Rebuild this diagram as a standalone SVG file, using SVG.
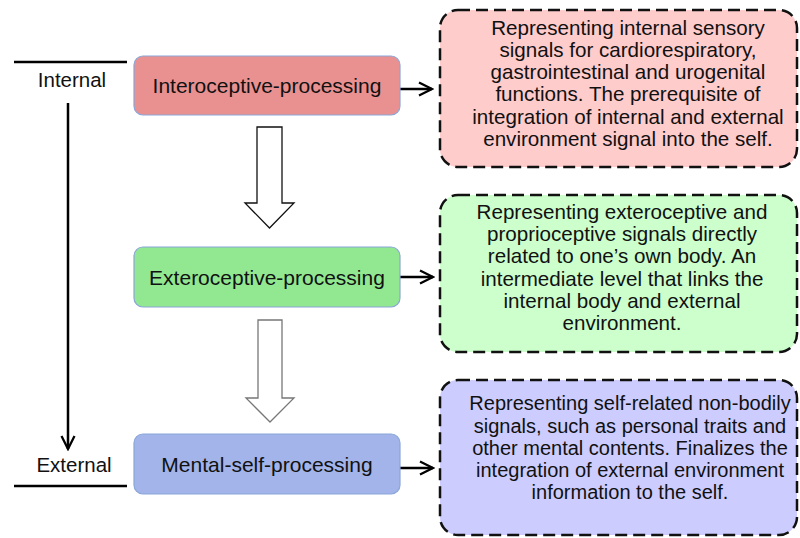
<svg xmlns="http://www.w3.org/2000/svg" width="800" height="538" viewBox="0 0 800 538">
<defs>
<style>
.t{font-family:"Liberation Sans",Arial,sans-serif;fill:#111;}
.lbl{font-size:21px;text-anchor:middle;}
.desc{font-size:20.6px;text-anchor:middle;}
.desc2{font-size:20px;text-anchor:middle;}
.side{font-size:20.5px;text-anchor:middle;}
.proc{stroke:#8aa6d8;stroke-width:1.2;}
.note{stroke:#111;stroke-width:2.5;stroke-dasharray:12 6;}
.conn{stroke:#000;stroke-width:2.5;fill:none;}
.block{fill:#fff;stroke-width:1.3;}
</style>
<marker id="ah" viewBox="0 0 10 10" refX="9" refY="5" markerWidth="6.5" markerHeight="6.5" orient="auto" markerUnits="strokeWidth">
<path d="M1,1 L9,5 L1,9" fill="none" stroke="#000" stroke-width="1.4"/>
</marker>
</defs>
<rect width="800" height="538" fill="#fff"/>

<g id="scale">
<line x1="14" y1="62" x2="127" y2="62" stroke="#000" stroke-width="2.5"/>
<text class="t side" x="72" y="87">Internal</text>
<text class="t side" x="74" y="472">External</text>
<line x1="14" y1="486" x2="127" y2="486" stroke="#000" stroke-width="2.5"/>
</g>

<g id="connectors">
<line class="conn" x1="68" y1="103" x2="68" y2="449" marker-end="url(#ah)"/>
<line class="conn" x1="400" y1="89" x2="432" y2="89" marker-end="url(#ah)"/>
<line class="conn" x1="400" y1="277" x2="433" y2="277" marker-end="url(#ah)"/>
<line class="conn" x1="400" y1="468" x2="433" y2="468" marker-end="url(#ah)"/>
<path class="block" stroke="#111" d="M257,127 H282 V203 H294 L269.5,228 L245,203 H257 Z"/>
<path class="block" stroke="#777" d="M258,320 H282 V398 H294 L270,422 L246,398 H258 Z"/>
</g>

<g id="interoceptive">
<rect class="proc" x="134" y="56" width="266" height="59" rx="9" fill="#e99191"/>
<text class="t lbl" x="267" y="93">Interoceptive-processing</text>
</g>
<g id="exteroceptive">
<rect class="proc" x="134" y="247" width="266" height="60" rx="9" fill="#91e891"/>
<text class="t lbl" x="267" y="285">Exteroceptive-processing</text>
</g>
<g id="mental">
<rect class="proc" x="134" y="434" width="266" height="60" rx="9" fill="#a2b4e9"/>
<text class="t lbl" x="267" y="472">Mental-self-processing</text>
</g>

<g id="note-intero">
<rect class="note" x="440" y="10" width="357" height="157" rx="18" fill="#ffcccc"/>
<text class="t desc" x="628" y="35">Representing internal sensory</text>
<text class="t desc" x="628" y="57">signals for cardiorespiratory,</text>
<text class="t desc" x="628" y="79">gastrointestinal and urogenital</text>
<text class="t desc" x="628" y="101">functions. The prerequisite of</text>
<text class="t desc" x="628" y="124">integration of internal and external</text>
<text class="t desc" x="628" y="146">environment signal into the self.</text>
</g>
<g id="note-extero">
<rect class="note" x="440" y="195" width="357" height="157" rx="18" fill="#ccffcc"/>
<text class="t desc" x="622" y="219">Representing exteroceptive  and</text>
<text class="t desc" x="622" y="241">proprioceptive signals directly</text>
<text class="t desc" x="622" y="263">related to one’s own body. An</text>
<text class="t desc" x="622" y="286">intermediate level that links the</text>
<text class="t desc" x="622" y="308">internal body and external</text>
<text class="t desc" x="622" y="330">environment.</text>
</g>
<g id="note-mental">
<rect class="note" x="440" y="380" width="357" height="155" rx="18" fill="#ccccff"/>
<text class="t desc2" x="630" y="410">Representing self-related non-bodily</text>
<text class="t desc2" x="630" y="433">signals, such as personal traits and</text>
<text class="t desc2" x="630" y="455">other mental contents. Finalizes the</text>
<text class="t desc2" x="630" y="477">integration of external environment</text>
<text class="t desc2" x="630" y="499">information to the self.</text>
</g>
</svg>
